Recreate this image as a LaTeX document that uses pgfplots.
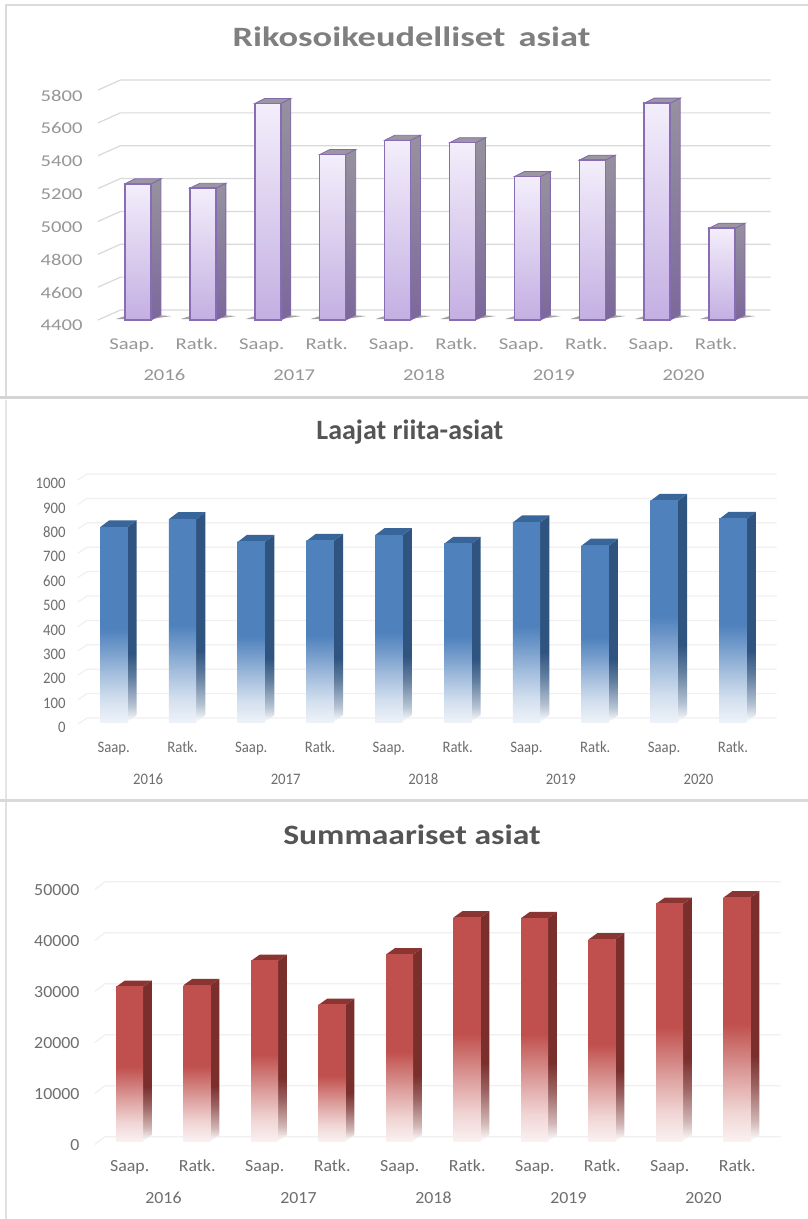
\documentclass[border=0pt]{standalone}
\usepackage{fontspec}
\usepackage{pgfplots}
\pgfplotsset{compat=1.18}
\setmainfont{Carlito}
\newfontfamily\fA[FakeStretch=1.25]{Carlito}
\newfontfamily\fB[FakeStretch=0.92]{Carlito}
\newfontfamily\fC[FakeStretch=1.05]{Carlito}
\newfontfamily\tA[FakeStretch=1.3,WordSpace=1.6]{Carlito}
\newfontfamily\tB[FakeStretch=1.0]{Carlito}
\newfontfamily\tC[FakeStretch=1.2]{Carlito}
\definecolor{bluef}{HTML}{4F81BD}
\definecolor{blues}{HTML}{2F5480}
\definecolor{bluet}{HTML}{38659A}
\definecolor{redf}{HTML}{C0504D}
\definecolor{reds}{HTML}{7A2F2D}
\definecolor{redt}{HTML}{8B3532}
\pgfdeclareverticalshading{frontblue}{100bp}{
 color(0bp)=(white); color(25bp)=(white!90!bluef); color(31bp)=(white!74!bluef);
 color(37.5bp)=(white!48!bluef); color(43.5bp)=(white!22!bluef); color(49bp)=(bluef); color(100bp)=(bluef)}
\pgfdeclareverticalshading{sideblue}{100bp}{
 color(0bp)=(white); color(25bp)=(white); color(29bp)=(white!65!blues);
 color(36bp)=(white!25!blues); color(42bp)=(blues); color(100bp)=(blues)}
\pgfdeclareverticalshading{frontred}{100bp}{
 color(0bp)=(white); color(25bp)=(white!92!redf); color(31bp)=(white!76!redf);
 color(37.5bp)=(white!50!redf); color(43.5bp)=(white!24!redf); color(49bp)=(redf); color(100bp)=(redf)}
\pgfdeclareverticalshading{sidered}{100bp}{
 color(0bp)=(white); color(25bp)=(white); color(29bp)=(white!65!reds);
 color(36bp)=(white!25!reds); color(42bp)=(reds); color(100bp)=(reds)}
\tikzset{
 frontB/.style={shade,shading=frontblue,draw=none},
 sideB/.style={shade,shading=sideblue,draw=none},
 topB/.style={fill=bluet,draw=none},
 frontR/.style={shade,shading=frontred,draw=none},
 sideR/.style={shade,shading=sidered,draw=none},
 topR/.style={fill=redt,draw=none},
 frontP/.style={top color={rgb,255:red,243;green,238;blue,251},bottom color={rgb,255:red,196;green,175;blue,226},draw={rgb,255:red,136;green,108;blue,180},line width=1.5bp},
 sideP/.style={top color={rgb,255:red,150;green,146;blue,158},bottom color={rgb,255:red,124;green,104;blue,156},draw={rgb,255:red,130;green,105;blue,170},line width=.8bp},
 topP/.style={fill={rgb,255:red,155;green,150;blue,162},draw={rgb,255:red,130;green,105;blue,170},line width=.8bp},
}
% one 3D column: #1 position, #2 value
\newcommand\threedbar[2]{%
 \edef\xa{\fpeval{#1-\hw}}\edef\xb{\fpeval{#1+\hw}}%
 \edef\xc{\fpeval{#1-\hw+\ddx}}\edef\xd{\fpeval{#1+\hw+\ddx}}%
 \edef\ya{\fpeval{\ybase}}\edef\yb{\fpeval{#2+\yofs}}%
 \edef\yc{\fpeval{\ybase+\ddy}}\edef\yd{\fpeval{#2+\yofs+\ddy}}%
 \edef\tmp{\noexpand\addplot[forget plot,side\kind] coordinates {(\xb,\ya)(\xd,\yc)(\xd,\yd)(\xb,\yb)} --cycle;
  \noexpand\addplot[forget plot,top\kind] coordinates {(\xa,\yb)(\xc,\yd)(\xd,\yd)(\xb,\yb)} --cycle;
  \noexpand\addplot[forget plot,front\kind] coordinates {(\xa,\ya)(\xa,\yb)(\xb,\yb)(\xb,\ya)} --cycle;}%
 \tmp}
\newcommand\floorshadow[1]{%
 \edef\xa{\fpeval{#1-\hw-0.14}}\edef\xb{\fpeval{#1+\hw}}\edef\xc{\fpeval{#1+\hw+\ddx+0.16}}\edef\xd{\fpeval{#1+\hw+\ddx}}%
 \edef\xe{\fpeval{#1-\hw}}\edef\ya{\fpeval{\ybase+6}}\edef\yb{\fpeval{\ybase+24}}\edef\yc{\fpeval{\ybase+28}}%
 \edef\tmp{\noexpand\addplot[forget plot,fill=black!60,fill opacity=.6,draw=none] coordinates {(\xa,\ya)(\xe,\yb)(\xd,\yc)(\xc,\yb)(\xb,\ya)} --cycle;}%
 \tmp}
\newcommand\gridln[1]{%
 \edef\ya{\fpeval{#1+\gdy}}%
 \edef\tmp{\noexpand\addplot[forget plot,draw=gridc,line width=\gridw] coordinates {(\gxa,#1)(\gxb,\ya)(\gxc,\ya)};}%
 \tmp}
\pgfplotsset{panel/.style={
  scale only axis, clip=false, axis line style={draw=none},
  major tick style={draw=none}, minor tick style={draw=none},
  xtick={0,1,2,3,4,5,6,7,8,9},
  xticklabels={Saap.,Ratk.,Saap.,Ratk.,Saap.,Ratk.,Saap.,Ratk.,Saap.,Ratk.},
  extra x ticks={0.5,2.5,4.5,6.5,8.5},
  extra x tick labels={2016,2017,2018,2019,2020},
  /pgf/number format/1000 sep={},
  /pgf/number format/assume math mode=true,
  xticklabel style={anchor=center,text height=12bp,text depth=0bp},
  yticklabel style={anchor=east},
  title style={anchor=center},
 }}
\begin{document}
\begin{tikzpicture}
\path[use as bounding box,fill=white] (0bp,0bp) rectangle (808bp,-1219bp);
% panel frames
\draw[line width=1.2bp,draw=black!14] (808bp,-5bp) -- (6bp,-5bp) -- (6bp,-397bp);
\draw[line width=1.2bp,draw=black!10] (6bp,-400bp) -- (6bp,-799bp);
\draw[line width=1.2bp,draw=black!12] (6bp,-800bp) -- (6bp,-1219bp);
\draw[line width=3bp,draw=black!17] (0bp,-397.5bp) -- (808bp,-397.5bp);
\draw[line width=3bp,draw=black!15] (0bp,-800.5bp) -- (808bp,-800.5bp);
% ---------- panel 1
\def\hw{0.2003}\def\ddx{0.154}\def\ddy{30.4}\def\ybase{4400}\def\yofs{0}\def\kind{P}
\def\gxa{-0.6163}\def\gxb{-0.2700}\def\gxc{9.749}\def\gdy{60.9}
\colorlet{gridc}{black!15}\def\gridw{1.2bp}
\begin{axis}[panel,at={(98bp,-320bp)},anchor=south west,width=672.7bp,height=230bp,
  xmin=-0.6163,xmax=9.749,ymin=4400,ymax=5800,
  ytick={4400,4600,4800,5000,5200,5400,5600,5800},
  tick label style={font=\fA\fontsize{16.5bp}{19bp}\selectfont,text={rgb,255:red,150;green,150;blue,150}},
  xticklabel style={yshift=-23bp,xshift=-6bp},
  yticklabel style={xshift=-12bp,yshift=-5.5bp},
  extra x tick style={xticklabel style={yshift=-31bp,xshift=0bp}},
  title={Rikosoikeudelliset asiat},
  title style={at={(0.466,1.2043)},font=\tA\bfseries\fontsize{28bp}{32bp}\selectfont,text={rgb,255:red,127;green,127;blue,127}},
 ]
 \gridln{4400}\gridln{4600}\gridln{4800}\gridln{5000}\gridln{5200}\gridln{5400}\gridln{5600}\gridln{5800}
 \floorshadow{0}\floorshadow{1}\floorshadow{2}\floorshadow{3}\floorshadow{4}
 \floorshadow{5}\floorshadow{6}\floorshadow{7}\floorshadow{8}\floorshadow{9}
 \threedbar{0}{5229}\threedbar{1}{5202}\threedbar{2}{5718}\threedbar{3}{5407}\threedbar{4}{5494}
 \threedbar{5}{5479}\threedbar{6}{5273}\threedbar{7}{5373}\threedbar{8}{5720}\threedbar{9}{4959}
\end{axis}
% ---------- panel 2
\def\hw{0.199}\def\ddx{0.135}\def\ddy{28.7}\def\ybase{8.2}\def\yofs{8.2}\def\kind{B}
\def\gxa{-0.519}\def\gxb{-0.388}\def\gxc{9.637}\def\gdy{24.6}
\colorlet{gridc}{black!6}\def\gridw{1.2bp}
\begin{axis}[panel,at={(78bp,-724bp)},anchor=south west,width=698.7bp,height=244bp,
  xmin=-0.519,xmax=9.637,ymin=0,ymax=1000,
  ytick={0,100,200,300,400,500,600,700,800,900,1000},
  tick label style={font=\fB\fontsize{16bp}{19bp}\selectfont,text={rgb,255:red,110;green,110;blue,110}},
  xticklabel style={yshift=-22bp},
  yticklabel style={xshift=-9bp,yshift=-3.5bp},
  extra x tick style={xticklabel style={yshift=-32bp}},
  title={Laajat riita-asiat},
  title style={at={(0.475,1.172)},font=\tB\bfseries\fontsize{28bp}{32bp}\selectfont,text={rgb,255:red,85;green,85;blue,85}},
 ]
 \gridln{0}\gridln{100}\gridln{200}\gridln{300}\gridln{400}\gridln{500}\gridln{600}\gridln{700}\gridln{800}\gridln{900}\gridln{1000}
 \threedbar{0}{798}\threedbar{1}{831}\threedbar{2}{738}\threedbar{3}{742}\threedbar{4}{766}
 \threedbar{5}{730}\threedbar{6}{818}\threedbar{7}{723}\threedbar{8}{906}\threedbar{9}{832}
\end{axis}
% ---------- panel 3
\def\hw{0.2}\def\ddx{0.129}\def\ddy{1216}\def\ybase{667}\def\yofs{667}\def\kind{R}
\def\gxa{-0.514}\def\gxb{-0.366}\def\gxc{9.644}\def\gdy{1510}
\colorlet{gridc}{black!6}\def\gridw{1.2bp}
\begin{axis}[panel,at={(95bp,-1144.4bp)},anchor=south west,width=685.7bp,height=255bp,
  xmin=-0.514,xmax=9.644,ymin=0,ymax=50000,
  ytick={0,10000,20000,30000,40000,50000},
  scaled y ticks=false,
  tick label style={font=\fC\fontsize{17bp}{20bp}\selectfont,text={rgb,255:red,110;green,110;blue,110}},
  xticklabel style={yshift=-21bp},
  yticklabel style={xshift=-12bp,yshift=-1bp},
  extra x tick style={xticklabel style={yshift=-32bp}},
  title={Summaariset asiat},
  title style={at={(0.4623,1.19)},font=\tC\bfseries\fontsize{28bp}{32bp}\selectfont,text={rgb,255:red,85;green,85;blue,85}},
 ]
 \gridln{0}\gridln{10000}\gridln{20000}\gridln{30000}\gridln{40000}\gridln{50000}
 \threedbar{0}{30255}\threedbar{1}{30590}\threedbar{2}{35350}\threedbar{3}{26725}\threedbar{4}{36610}
 \threedbar{5}{43860}\threedbar{6}{43725}\threedbar{7}{39550}\threedbar{8}{46530}\threedbar{9}{47785}
\end{axis}
\end{tikzpicture}
\end{document}
